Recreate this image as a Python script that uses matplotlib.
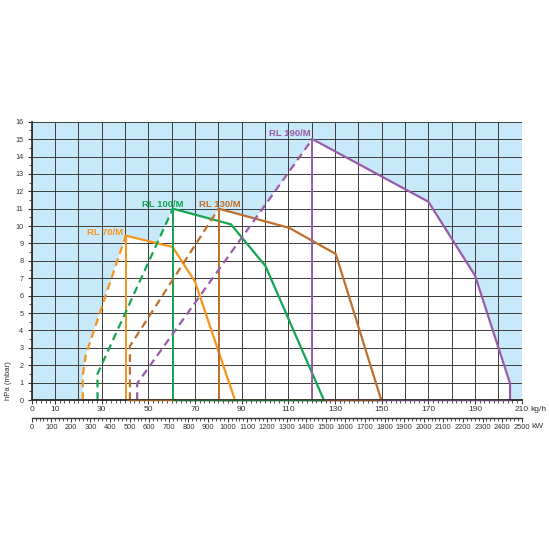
import matplotlib
matplotlib.use("Agg")
import matplotlib.pyplot as plt
from matplotlib.colors import to_rgb
from matplotlib.ticker import FixedLocator, MultipleLocator

plt.rcParams["font.family"] = ["Liberation Sans", "DejaVu Sans"]

# burner working fields: (kg/h, hPa); the point at index `peak` starts the solid part
rl70_x = [21.9, 21.9, 23.2, 40.3, 60.4, 70.0, 87.1]
rl70_y = [0.0, 1.4, 2.6, 9.45, 8.8, 6.8, 0.0]
rl70_peak = 3

rl100_x = [28.2, 28.2, 60.5, 85.4, 100.2, 125.2]
rl100_y = [0.0, 1.5, 11.0, 10.1, 7.7, 0.0]
rl100_peak = 2

rl130_x = [42.1, 42.1, 80.1, 110.3, 130.3, 149.8]
rl130_y = [0.0, 3.1, 11.0, 9.9, 8.4, 0.0]
rl130_peak = 2

rl190_x = [45.2, 45.2, 120.3, 170.0, 190.0, 205.0, 205.0]
rl190_y = [0.0, 0.95, 15.0, 11.4, 7.15, 0.95, 0.0]
rl190_peak = 2

models = ["RL 70/M", "RL 100/M", "RL 130/M", "RL 190/M"]
colors = ["#f7941d", "#13a651", "#c0702c", "#9a5ca8"]
label_pos = [(39.3, 9.65, "right"), (56.2, 11.25, "center"),
             (80.8, 11.25, "center"), (110.7, 15.3, "center")]
base_z = [7.2, 7.4, 7.3, 7.1]

kgh_labels = [0, 10, 30, 50, 70, 90, 110, 130, 150, 170, 190, 210]
kw_labels = list(range(0, 2501, 100))

curves = [(rl70_x, rl70_y, rl70_peak), (rl100_x, rl100_y, rl100_peak),
          (rl130_x, rl130_y, rl130_peak), (rl190_x, rl190_y, rl190_peak)]

fig = plt.figure(figsize=(5.5, 5.5), dpi=100)
ax = fig.add_axes([0.0576, 0.2727, 0.891, 0.506])
ax.set_xlim(0, 210)
ax.set_ylim(0, 16)
ax.set_facecolor("#c8e9f9")

# white working area
for xs, ys, pk in curves:
    ax.fill(xs, ys, color="white", lw=0, zorder=1)

# grid
for gx in range(0, 211, 10):
    ax.plot([gx, gx], [0, 16], color="#3c3c3c", lw=0.7, zorder=2)
for gy in range(0, 17):
    ax.plot([0, 210], [gy, gy], color="#3c3c3c", lw=0.7, zorder=2)

for (xs, ys, pk), name, c, (tx, ty, ha), bz in zip(curves, models, colors,
                                                   label_pos, base_z):
    ax.plot(xs[:pk + 1], ys[:pk + 1], color=c, lw=1.6, dashes=(3.5, 2.2),
            zorder=4, solid_capstyle="butt")
    ax.plot(xs[pk:], ys[pk:], color=c, lw=1.6, zorder=4)
    ax.plot([xs[pk], xs[pk]], [0, ys[pk]], color=c, lw=1.4, zorder=4)
    # base of the working field, drawn over the axis line
    dark = tuple(0.55 * v + 0.45 * 0.13 for v in to_rgb(c))
    ax.plot([xs[pk], xs[-1]], [0, 0], color=dark, lw=1.0, zorder=bz,
            clip_on=False, solid_capstyle="butt")
    ax.text(tx, ty, name, color=c, fontsize=6.8, fontweight="bold",
            ha=ha, va="center", zorder=5)

for s in ["top", "right"]:
    ax.spines[s].set_visible(False)
ax.spines["left"].set_color("#333333")
ax.spines["left"].set_linewidth(1.3)
ax.spines["bottom"].set_color("#333333")
ax.spines["bottom"].set_linewidth(1.4)
ax.spines["bottom"].set_zorder(6)

ax.yaxis.set_major_locator(MultipleLocator(1))
ax.yaxis.set_minor_locator(MultipleLocator(0.5))
ax.xaxis.set_major_locator(FixedLocator(kgh_labels))
ax.xaxis.set_minor_locator(MultipleLocator(2))
ax.tick_params(axis="y", which="major", length=3, width=0.8, color="#333333",
               labelsize=5.2, labelcolor="#333333", pad=3)
ax.tick_params(axis="y", which="minor", length=2, width=0.6, color="#333333")
ax.tick_params(axis="x", which="major", length=3, width=0.7, color="#333333",
               labelsize=6.0, labelcolor="#333333", pad=1.5)
ax.tick_params(axis="x", which="minor", length=2, width=0.6, color="#333333")

secax = ax.secondary_xaxis(-0.0645, functions=(lambda k: k * 2500 / 210,
                                                lambda w: w * 210 / 2500))
secax.xaxis.set_major_locator(FixedLocator(kw_labels))
secax.xaxis.set_minor_locator(MultipleLocator(20))
secax.spines["bottom"].set_color("#333333")
secax.spines["bottom"].set_linewidth(1.0)
secax.tick_params(axis="x", which="major", length=3, width=0.7, color="#333333",
                  labelsize=5.4, labelcolor="#333333", pad=1.5)
secax.tick_params(axis="x", which="minor", length=2, width=0.6, color="#333333")

ax.text(213.6, -0.55, "kg/h", fontsize=6.0, color="#333333",
        ha="left", va="center", clip_on=False)
ax.text(214.3, -1.55, "kW", fontsize=6.0, color="#333333",
        ha="left", va="center", clip_on=False)
ax.text(-0.048, 0.0, "hPa (mbar)", transform=ax.transAxes, rotation=90,
        fontsize=5.6, color="#333333", ha="center", va="bottom")

fig.savefig("out.png", dpi=100, facecolor="white")
